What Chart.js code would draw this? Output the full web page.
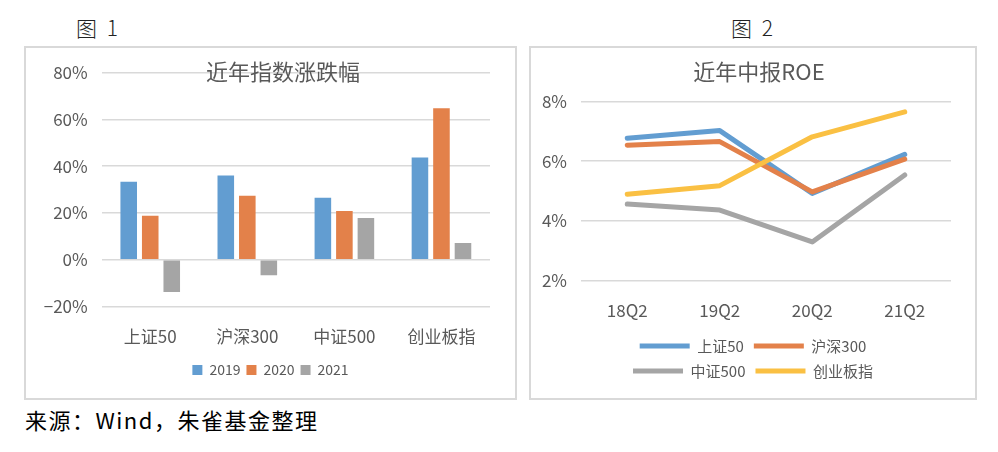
<!DOCTYPE html>
<html>
<head>
<meta charset="utf-8">
<script src="https://cdn.jsdelivr.net/npm/chart.js@4/dist/chart.umd.min.js"></script>
<style>
  body { margin: 0; background: #fff; width: 998px; height: 452px; position: relative; overflow: hidden;
         font-family: "Noto Sans CJK SC", sans-serif; }
  .cap { position: absolute; top: 16px; font-size: 21px; line-height: 22px; color: #222; word-spacing: 5px; font-weight: 300; }
  .box { position: absolute; top: 46px; height: 350px; border: 2px solid #d9d9d9; }
  #box1 { left: 24px; width: 489px; }
  #box2 { left: 529px; width: 444px; }
  canvas { display: block; }
  #src { position: absolute; left: 25px; top: 408px; font-size: 22px; line-height: 22px; letter-spacing: 1.5px; color: #000; }
</style>
</head>
<body>
<div class="cap" style="left:76px">图 1</div>
<div class="cap" style="left:731px">图 2</div>
<div class="box" id="box1"><canvas id="c1" width="489" height="350"></canvas></div>
<div class="box" id="box2"><canvas id="c2" width="444" height="350"></canvas></div>
<div id="src">来源：Wind，朱雀基金整理</div>
<script>
// chart 1: index returns by year (%)
const barCats = ['上证50', '沪深300', '中证500', '创业板指'];
const barYears = ['2019', '2020', '2021'];
const chg2019 = [33.4, 36.0, 26.5, 43.7];
const chg2020 = [18.8, 27.4, 20.9, 64.8];
const chg2021 = [-13.8, -6.6, 17.9, 7.2];

// chart 2: half-year ROE (%)
const roeQuarters = ['18Q2', '19Q2', '20Q2', '21Q2'];
const roeNames = ['上证50', '沪深300', '中证500', '创业板指'];
const roeSz50 = [6.77, 7.03, 4.92, 6.23];
const roeHs300 = [6.54, 6.66, 4.97, 6.07];
const roeZz500 = [4.56, 4.36, 3.29, 5.54];
const roeCyb = [4.89, 5.18, 6.82, 7.66];

const BLUE = '#629dd1';
const ORANGE = '#e3814a';
const GREY = '#a5a5a5';
const YELLOW = '#fac043';
const TXT = '#595959';
const GRID = '#d9d9d9';

Chart.defaults.font.family = '"Noto Sans CJK SC", sans-serif';
Chart.defaults.color = TXT;

// title drawn over the plot (it sits on the top gridline in the original)
const titlePlugin = {
  id: 'chartTitle',
  afterDraw(chart, args, opts) {
    const ctx = chart.ctx;
    ctx.save();
    ctx.font = '22px "Noto Sans CJK SC"';
    ctx.fillStyle = TXT;
    ctx.textAlign = 'center';
    ctx.textBaseline = 'middle';
    ctx.fillText(opts.text, opts.x, opts.y);
    ctx.restore();
  }
};

// optional row wrap + center the legend on the whole canvas, not the padded area
const legendFix = {
  id: 'legendFix',
  afterInit(chart, args, opts) {
    const lg = chart.legend;
    if (!lg || !opts.rowWidth) return;
    const orig = lg.update.bind(lg);
    lg.update = (w, h, m) => orig(Math.min(w, opts.rowWidth), h, m);
  },
  afterLayout(chart) {
    const lg = chart.legend;
    if (!lg) return;
    lg.left = 0;
    lg.right = chart.width;
    lg.width = chart.width;
  }
};

const pct = v => (v < 0 ? '\u2212' + Math.abs(v) : v) + '%';

new Chart(document.getElementById('c1'), {
  type: 'bar',
  data: {
    labels: barCats,
    datasets: [
      { label: barYears[0], data: chg2019, backgroundColor: BLUE },
      { label: barYears[1], data: chg2020, backgroundColor: ORANGE },
      { label: barYears[2], data: chg2021, backgroundColor: GREY }
    ]
  },
  options: {
    responsive: false,
    animation: false,
    datasets: { bar: { categoryPercentage: 0.665, barPercentage: 0.77 } },
    layout: { padding: { top: 24.7, right: 25, bottom: 11, left: 0 } },
    scales: {
      x: {
        grid: { display: false },
        border: { display: false },
        ticks: { color: TXT, font: { size: 17 }, padding: 12 },
        afterFit: s => { s.height = 50.5; }
      },
      y: {
        min: -20, max: 80,
        ticks: { stepSize: 20, color: TXT, font: { size: 17 }, padding: 14, callback: pct },
        grid: { color: GRID, lineWidth: 1.5, drawTicks: false },
        border: { display: false },
        afterFit: s => { s.width = 75.7; }
      }
    },
    plugins: {
      legend: {
        position: 'bottom',
        labels: { boxWidth: 10, boxHeight: 10, padding: 6, color: TXT, font: { size: 14 } }
      },
      tooltip: { enabled: false },
      legendFix: {},
      chartTitle: { text: '近年指数涨跌幅', x: 257, y: 24 }
    }
  },
  plugins: [titlePlugin, legendFix]
});

const lineSet = (label, data, color, order) => ({
  label, data, order,
  borderColor: color, backgroundColor: color,
  borderWidth: 5, borderCapStyle: 'round', borderJoinStyle: 'round',
  pointRadius: 0, tension: 0, fill: false
});

new Chart(document.getElementById('c2'), {
  type: 'line',
  data: {
    labels: roeQuarters,
    datasets: [
      lineSet(roeNames[0], roeSz50, BLUE, 3),
      lineSet(roeNames[1], roeHs300, ORANGE, 2),
      lineSet(roeNames[2], roeZz500, GREY, 1),
      lineSet(roeNames[3], roeCyb, YELLOW, 0)
    ]
  },
  options: {
    responsive: false,
    animation: false,
    layout: { padding: { top: 53.7, right: 24, bottom: 9.5, left: 0 } },
    scales: {
      x: {
        offset: true,
        grid: { display: false },
        border: { display: false },
        ticks: { color: TXT, font: { size: 17 }, padding: 12.5 },
        afterFit: s => { s.height = 48.2; }
      },
      y: {
        min: 2, max: 8,
        ticks: { stepSize: 2, color: TXT, font: { size: 17 }, padding: 14, callback: pct },
        grid: { color: GRID, lineWidth: 1.5, drawTicks: false },
        border: { display: false },
        afterFit: s => { s.width = 50; }
      }
    },
    plugins: {
      legend: {
        position: 'bottom',
        labels: {
          usePointStyle: true, pointStyle: 'line', pointStyleWidth: 50,
          padding: 10, color: TXT, font: { size: 15 },
          sort: (a, b) => a.datasetIndex - b.datasetIndex
        }
      },
      tooltip: { enabled: false },
      legendFix: { rowWidth: 300 },
      chartTitle: { text: '近年中报ROE', x: 228, y: 24 }
    }
  },
  plugins: [titlePlugin, legendFix]
});
</script>
</body>
</html>
